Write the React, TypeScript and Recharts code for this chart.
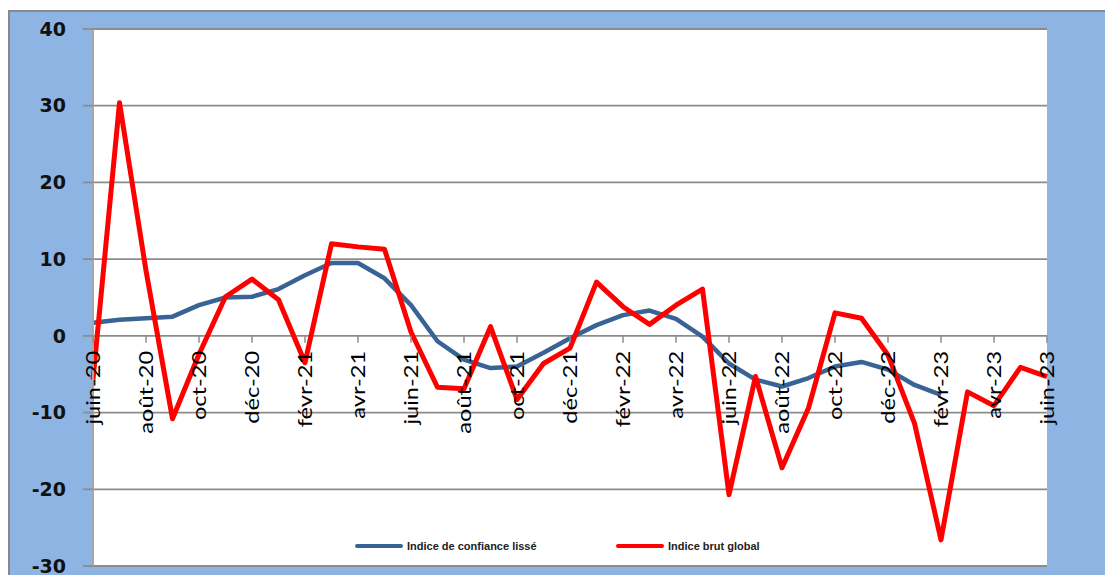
import React from 'react';
import { LineChart, Line, XAxis, YAxis, CartesianGrid, Legend } from 'recharts';

const months = [
  'juin-20', 'juil-20', 'août-20', 'sept-20', 'oct-20', 'nov-20', 'déc-20',
  'janv-21', 'févr-21', 'mars-21', 'avr-21', 'mai-21', 'juin-21', 'juil-21',
  'août-21', 'sept-21', 'oct-21', 'nov-21', 'déc-21', 'janv-22', 'févr-22',
  'mars-22', 'avr-22', 'mai-22', 'juin-22', 'juil-22', 'août-22', 'sept-22',
  'oct-22', 'nov-22', 'déc-22', 'janv-23', 'févr-23', 'mars-23', 'avr-23',
  'mai-23', 'juin-23',
];

const indiceLisse: (number | null)[] = [
  1.7, 2.1, 2.3, 2.5, 4.0, 5.0, 5.1, 6.1, 7.9, 9.5, 9.5, 7.5, 4.0, -0.7,
  -3.1, -4.2, -4.0, -2.2, -0.3, 1.4, 2.7, 3.3, 2.2, -0.1, -3.6, -5.7, -6.6,
  -5.5, -4.0, -3.4, -4.4, -6.4, -7.7, null, null, null, null,
];

const indiceBrut: number[] = [
  -5.7, 30.4, 8.5, -10.8, -2.4, 5.1, 7.4, 4.7, -3.5, 12.0, 11.6, 11.3, 0.5,
  -6.7, -6.9, 1.2, -8.3, -3.6, -1.6, 7.0, 3.8, 1.5, 4.0, 6.1, -20.7, -5.3,
  -17.2, -9.4, 3.0, 2.3, -2.5, -11.4, -26.6, -7.3, -9.1, -4.1, -5.3,
];

const yTicks = [-30, -20, -10, 0, 10, 20, 30, 40];
const Y_MIN = -30;
const Y_MAX = 40;

const SERIES_LISSE = 'Indice de confiance lissé';
const SERIES_BRUT = 'Indice brut global';
const SERIES_ORDER = ['lisse', 'brut'];

const data = months.map((m, i) => ({
  month: m,
  lisse: indiceLisse[i],
  brut: indiceBrut[i],
}));

const W = 1105;
const H = 575;
const X_AXIS_H = 9;
const MARGIN = { top: 29, right: 58, bottom: 0, left: 33 };
const PLOT_H = H - MARGIN.top - MARGIN.bottom - X_AXIS_H;
const GRID = '#8c8c8c';

// Category labels sit on the zero line (Excel-style "axis crosses at 0")
const XTick = (props: any) => {
  const { x, payload } = props;
  const zeroY = MARGIN.top + (PLOT_H * (Y_MAX - 0)) / (Y_MAX - Y_MIN);
  return (
    <g>
      <line x1={x} y1={zeroY} x2={x} y2={zeroY + 7} stroke={GRID} strokeWidth={1.5} />
      <text
        transform={`translate(${x},${zeroY + 15}) rotate(-90) scale(1.18,1)`}
        textAnchor="end"
        dy="0.36em"
        fontFamily="Lato, 'Liberation Sans', sans-serif"
        fontSize={20}
        fill="#000"
      >
        {payload.value}
      </text>
    </g>
  );
};

const LegendContent = (props: any) => {
  const payload = [...(props.payload || [])].sort(
    (a: any, b: any) => SERIES_ORDER.indexOf(a.dataKey) - SERIES_ORDER.indexOf(b.dataKey)
  );
  return (
    <div style={{ position: 'relative', width: W, height: 20 }}>
      {payload.map((p: any, i: number) => (
        <div
          key={i}
          style={{
            position: 'absolute',
            left: i === 0 ? 355 : 616,
            top: 0,
            display: 'flex',
            alignItems: 'center',
            height: 20,
          }}
        >
          <div style={{ width: 48, height: 4, background: p.color, borderRadius: 2, marginRight: 4 }} />
          <span
            style={{
              fontFamily: "'Liberation Sans', Arial, sans-serif",
              fontWeight: 'bold',
              fontSize: 11,
              color: '#222',
            }}
          >
            {p.value}
          </span>
        </div>
      ))}
    </div>
  );
};

export default function App() {
  return (
    <div
      style={{
        position: 'absolute',
        left: 0,
        top: 0,
        width: W,
        height: H,
        overflow: 'hidden',
        background: '#fff',
      }}
    >
      <div
        style={{
          position: 'absolute',
          left: 8,
          top: 10,
          width: W,
          height: H,
          background: '#8EB4E3',
          borderTop: '2px solid #898989',
          borderLeft: '2px solid #898989',
        }}
      />
      <div style={{ position: 'absolute', left: 0, top: 0 }}>
        <LineChart width={W} height={H} data={data} margin={MARGIN}>
          <CartesianGrid vertical={false} stroke={GRID} strokeWidth={1.8} fill="#ffffff" />
          <XAxis
            dataKey="month"
            interval={1}
            height={X_AXIS_H}
            axisLine={false}
            tickLine={false}
            tick={<XTick />}
          />
          <YAxis
            domain={[Y_MIN, Y_MAX]}
            ticks={yTicks}
            width={60}
            interval={0}
            axisLine={{ stroke: '#a6a6a6', strokeWidth: 2 }}
            tickLine={{ stroke: GRID, strokeWidth: 1.8 }}
            tickSize={10}
            tickMargin={17}
            tick={{
              fontFamily: "'DejaVu Sans', Verdana, sans-serif",
              fontWeight: 'bold',
              fontSize: 19,
              fill: '#111',
            }}
          />
          <Legend
            layout="horizontal"
            verticalAlign="middle"
            itemSorter={null as any}
            wrapperStyle={{ position: 'absolute', left: 0, top: 536, width: W }}
            content={<LegendContent />}
          />
          <Line
            type="linear"
            dataKey="lisse"
            name={SERIES_LISSE}
            stroke="#3A6395"
            strokeWidth={4.5}
            dot={false}
            strokeLinejoin="round"
            isAnimationActive={false}
          />
          <Line
            type="linear"
            dataKey="brut"
            name={SERIES_BRUT}
            stroke="#FF0000"
            strokeWidth={5}
            dot={false}
            strokeLinejoin="round"
            isAnimationActive={false}
          />
        </LineChart>
      </div>
    </div>
  );
}
